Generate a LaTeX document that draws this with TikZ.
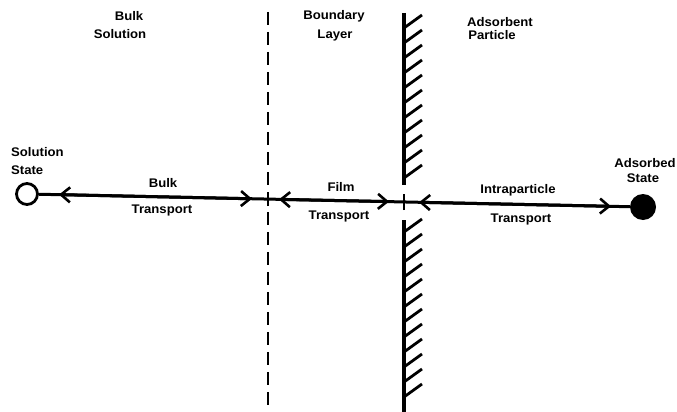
\documentclass[tikz,border=0pt]{standalone}
\usepackage{fontspec}
\setmainfont{Liberation Sans}[FakeStretch=1.05]
\usetikzlibrary{arrows.meta}
\tikzset{
  lbl/.style={font=\bfseries\fontsize{12.5}{14}\selectfont, inner sep=0pt},
  mainline/.style={line width=3pt},
  tip/.tip={Straight Barb[length=9pt,width=15pt,line width=2.6pt]},
  arr/.style={line width=3pt, {tip}-{tip}},
  dashdiv/.style={line width=2.8pt, dash pattern=on 13pt off 7pt},
  wall/.style={line width=3.4pt},
  hatch/.style={line width=2.8pt},
  tick/.style={line width=1.8pt},
  openstate/.style={circle, draw, line width=2.8pt, minimum size=21pt, inner sep=0pt},
  fullstate/.style={circle, fill=black, minimum size=26pt, inner sep=0pt}
}
\begin{document}
\begin{tikzpicture}[x=1pt,y=-1pt]
\useasboundingbox (0,0) rectangle (677,412);
% dividers
\draw[dashdiv] (268,12) -- (268,412);
\draw[wall] (404,13) -- (404,185);
\draw[wall] (404,220) -- (404,412);
\foreach \y in {28,43,...,178} \draw[hatch] (404,\y) -- ++(18,-13);
\foreach \y in {232,247,...,397} \draw[hatch] (404,\y) -- ++(18,-13);
% states
\node[openstate] (solL) at (27,194) {};
\node[fullstate] (solR) at (643,207) {};
% points on the line
\coordinate (b1) at (59,194.6);
\coordinate (b2) at (252,198.8);
\coordinate (d) at (268,199.1);
\coordinate (f1) at (279,199.4);
\coordinate (f2) at (389,201.6);
\coordinate (w) at (404,202);
\coordinate (i1) at (419,202.3);
\coordinate (i2) at (611,206.3);
\draw[mainline] (solL) -- (solR);
\draw[arr] (b1) -- (b2);
\draw[arr] (f1) -- (f2);
\draw[arr] (i1) -- (i2);
\draw[tick] ([yshift=-7pt]d) -- ([yshift=7pt]d);
\draw[tick] ([yshift=-8pt]w) -- ([yshift=8pt]w);
% labels
\node[lbl] (t1) at (129,16) {Bulk};
\node[lbl] (t2) at (120,34) {Solution};
\node[lbl] (t3) at (334,16) {Boundary};
\node[lbl] (t4) at (335,35) {Layer};
\node[lbl] (t5) at (500,22) {Adsorbent};
\node[lbl] (t6) at (492,35) {Particle};
\node[lbl, anchor=west] (t7) at (11,152) {Solution};
\node[lbl, anchor=west] (t8) at (11,170) {State};
\node[lbl] (t9) at (163,183) {Bulk};
\node[lbl] (t10) at (162,210) {Transport};
\node[lbl] (t11) at (341,187) {Film};
\node[lbl] (t12) at (339,216) {Transport};
\node[lbl] (t13) at (518,190) {Intraparticle};
\node[lbl] (t14) at (521,219) {Transport};
\node[lbl] (t15) at (645,163) {Adsorbed};
\node[lbl] (t16) at (643,178) {State};
\end{tikzpicture}
\end{document}
